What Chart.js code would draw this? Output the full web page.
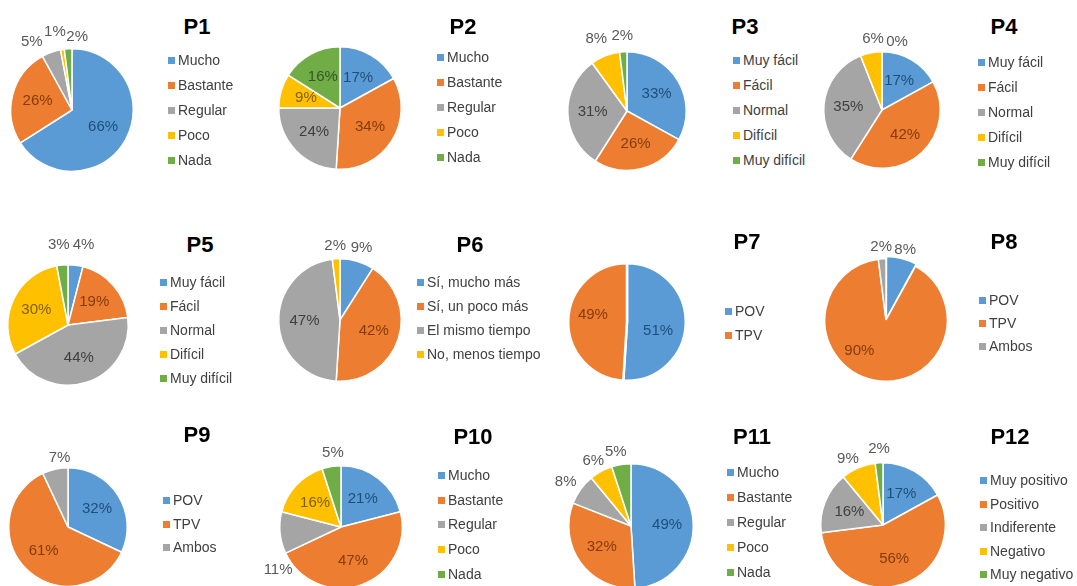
<!DOCTYPE html>
<html>
<head>
<meta charset="utf-8">
<script src="https://cdn.jsdelivr.net/npm/chart.js@4"></script>
<style>
  html, body { margin: 0; padding: 0; background: #fff; overflow: hidden; }
  body { width: 1077px; height: 586px; position: relative; font-family: "Liberation Sans", Arial, sans-serif; }
  canvas { position: absolute; }
  .title { position: absolute; font: bold 22px "Liberation Sans", Arial, sans-serif; color: #000; transform: translate(-50%, -50%); }
  .leg { position: absolute; font-size: 14px; color: #404040; white-space: nowrap; line-height: 16px; }
  .leg i { display: inline-block; width: 7px; height: 7px; margin-right: 3px; vertical-align: 1px; }
</style>
</head>
<body>
<script>
// categories
const catMucho = ['Mucho', 'Bastante', 'Regular', 'Poco', 'Nada'];
const catFacil = ['Muy fácil', 'Fácil', 'Normal', 'Difícil', 'Muy difícil'];
const catTiempo = ['Sí, mucho más', 'Sí, un poco más', 'El mismo tiempo', 'No, menos tiempo'];
const catPov2 = ['POV', 'TPV'];
const catPov3 = ['POV', 'TPV', 'Ambos'];
const catOpinion = ['Muy positivo', 'Positivo', 'Indiferente', 'Negativo', 'Muy negativo'];

// values (%)
const valuesP1 = [66, 26, 5, 1, 2];
const valuesP2 = [17, 34, 24, 9, 16];
const valuesP3 = [33, 26, 31, 8, 2];
const valuesP4 = [17, 42, 35, 6, 0];
const valuesP5 = [4, 19, 44, 30, 3];
const valuesP6 = [9, 42, 47, 2];
const valuesP7 = [51, 49];
const valuesP8 = [8, 90, 2];
const valuesP9 = [32, 61, 7];
const valuesP10 = [21, 47, 11, 16, 5];
const valuesP11 = [49, 32, 8, 6, 5];
const valuesP12 = [17, 56, 16, 9, 2];

const colors = ['#5B9BD5', '#ED7D31', '#A5A5A5', '#FFC000', '#70AD47'];
const darkColors = ['#1F4E79', '#843C0C', '#3F3F3F', '#7F6000', '#375623'];

const panels = [
  { title: 'P1', labels: catMucho, values: valuesP1, cx: 72, cy: 110, r: 62, tx: 197, ty: 27, lx: 168, ly: 60, step: 25,
    outside: [2, 3, 4], nudge: { 2: [-14, 5], 3: [-5, -2], 4: [10, 4] } },
  { title: 'P2', labels: catMucho, values: valuesP2, cx: 340, cy: 108, r: 62, tx: 463, ty: 27, lx: 437, ly: 57, step: 25,
    outside: [], nudge: {} },
  { title: 'P3', labels: catFacil, values: valuesP3, cx: 627, cy: 111, r: 60, tx: 745, ty: 27, lx: 733, ly: 60, step: 25,
    outside: [3, 4], nudge: { 3: [-3, -2] } },
  { title: 'P4', labels: catFacil, values: valuesP4, cx: 882, cy: 110, r: 59, tx: 1004, ty: 27, lx: 978, ly: 62, step: 25,
    outside: [3, 4], nudge: { 3: [5, 2], 4: [15, 6] } },
  { title: 'P5', labels: catFacil, values: valuesP5, cx: 68, cy: 325, r: 61, tx: 200, ty: 245, lx: 160, ly: 282, step: 24,
    outside: [0, 4], nudge: { 0: [6, -4], 4: [-2, -4] } },
  { title: 'P6', labels: catTiempo, values: valuesP6, cx: 340, cy: 320, r: 62, tx: 470, ty: 245, lx: 417, ly: 282, step: 24,
    outside: [0, 3], nudge: { 0: [0, 2], 3: [0, 3] } },
  { title: 'P7', labels: catPov2, values: valuesP7, cx: 627, cy: 322, r: 60, tx: 747, ty: 242, lx: 725, ly: 311, step: 24,
    outside: [], nudge: { 1: [0, -6], 0: [-3, 8] }, border: 2.5 },
  { title: 'P8', labels: catPov3, values: valuesP8, cx: 886, cy: 320, r: 65, tx: 1004, ty: 242, lx: 979, ly: 300, step: 23,
    outside: [0, 2], nudge: { 0: [0, 5], 2: [0, 4], 1: [-20, -4] }, offset: [6, 0, 0] },
  { title: 'P9', labels: catPov3, values: valuesP9, cx: 68, cy: 527, r: 60, tx: 197, ty: 435, lx: 163, ly: 500, step: 23.5,
    outside: [2], nudge: { 2: [8, 4] } },
  { title: 'P10', labels: catMucho, values: valuesP10, cx: 341, cy: 527, r: 62, tx: 473, ty: 437, lx: 438, ly: 475, step: 24.7,
    outside: [2, 4], nudge: { 2: [14, 36], 4: [4, 2] } },
  { title: 'P11', labels: catMucho, values: valuesP11, cx: 631, cy: 526, r: 63, tx: 752, ty: 437, lx: 727, ly: 472, step: 25,
    outside: [2, 3, 4], nudge: { 2: [-2, 2], 3: [0, 3], 4: [-3, 3] } },
  { title: 'P12', labels: catOpinion, values: valuesP12, cx: 883, cy: 525, r: 63, tx: 1010, ty: 437, lx: 980, ly: 480, step: 23.5,
    outside: [3, 4], nudge: { 3: [-4, 6], 4: [1, 2] } }
];

const pad = 40;

const pctLabels = {
  id: 'pctLabels',
  afterDatasetsDraw(chart, args, opts) {
    const ctx = chart.ctx;
    const meta = chart.getDatasetMeta(0);
    const values = chart.data.datasets[0].data;
    ctx.save();
    ctx.font = '15px "Liberation Sans", Arial, sans-serif';
    ctx.textAlign = 'center';
    ctx.textBaseline = 'middle';
    meta.data.forEach((arc, i) => {
      const p = arc.getProps(['x', 'y', 'startAngle', 'endAngle', 'outerRadius'], true);
      const mid = (p.startAngle + p.endAngle) / 2;
      const out = opts.outside.includes(i);
      const rad = out ? p.outerRadius + 16 : p.outerRadius * 0.58;
      const n = opts.nudge[i] || [0, 0];
      const x = p.x + Math.cos(mid) * rad + n[0];
      const y = p.y + Math.sin(mid) * rad + n[1];
      ctx.fillStyle = out ? '#595959' : darkColors[i];
      ctx.fillText(values[i] + '%', x, y);
    });
    ctx.restore();
  }
};

panels.forEach(pn => {
  const size = 2 * (pn.r + pad);
  const cv = document.createElement('canvas');
  cv.width = size;
  cv.height = size;
  cv.style.left = (pn.cx - size / 2) + 'px';
  cv.style.top = (pn.cy - size / 2) + 'px';
  document.body.appendChild(cv);

  new Chart(cv.getContext('2d'), {
    type: 'pie',
    data: {
      labels: pn.labels,
      datasets: [{
        data: pn.values,
        backgroundColor: colors.slice(0, pn.values.length),
        borderColor: '#fff',
        borderWidth: pn.border || 1.5,
        offset: pn.offset || 0
      }]
    },
    options: {
      responsive: false,
      animation: false,
      layout: { padding: pad },
      plugins: {
        legend: { display: false },
        tooltip: { enabled: false },
        pctLabels: { outside: pn.outside, nudge: pn.nudge }
      }
    },
    plugins: [pctLabels]
  });

  const t = document.createElement('div');
  t.className = 'title';
  t.textContent = pn.title;
  t.style.left = pn.tx + 'px';
  t.style.top = pn.ty + 'px';
  document.body.appendChild(t);

  pn.labels.forEach((lab, i) => {
    const d = document.createElement('div');
    d.className = 'leg';
    d.innerHTML = '<i style="background:' + colors[i] + '"></i>' + lab;
    d.style.left = pn.lx + 'px';
    d.style.top = (pn.ly + i * pn.step - 8) + 'px';
    document.body.appendChild(d);
  });
});
</script>
</body>
</html>
